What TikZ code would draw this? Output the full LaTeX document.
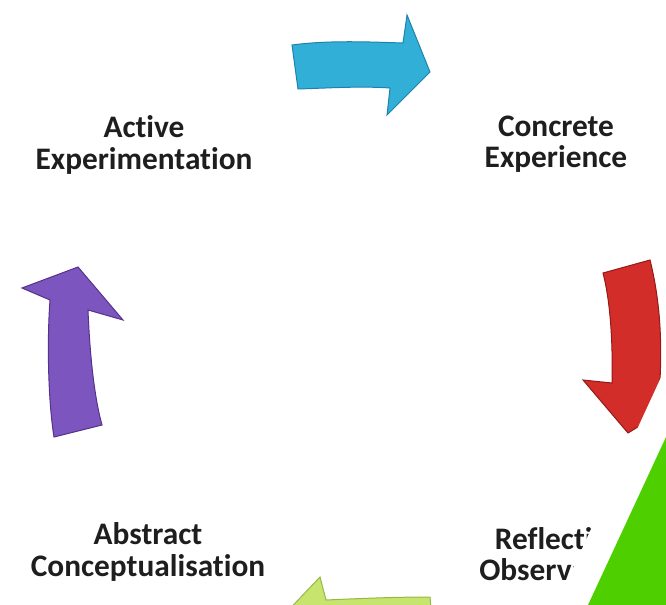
\documentclass[tikz,border=0pt]{standalone}
\usepackage{fontspec}
\setmainfont{Carlito}[Ligatures=NoCommon]
\usepackage{tikz}

\begin{document}
\begin{tikzpicture}[x=0.75pt,y=0.75pt,yscale=-1,xscale=1,
  stage/.style={font=\fontsize{23.5}{23.5}\selectfont\bfseries, align=center, inner sep=0.75pt, text={rgb,255:red,30;green,30;blue,30}}]

\clip (0,0) rectangle (666,605);

% arrows
\draw [draw={rgb, 255:red, 30; green, 130; blue, 175 }, fill={rgb, 255:red, 50; green, 175; blue, 215 }, line width=0.75]  (292,45) .. controls (330,40) and (370,42) .. (403,43) -- (407,15) -- (430,72) -- (387,115) -- (390,88) .. controls (360,86) and (330,88) .. (298,89) -- cycle ;
\draw [draw={rgb, 255:red, 150; green, 25; blue, 25 }, fill={rgb, 255:red, 210; green, 45; blue, 40 }, line width=0.75]  (603,273) -- (650,260) .. controls (660,300) and (662,340) .. (660,380) -- (690,395) -- (628,433) -- (583,380) -- (612,383) .. controls (613,340) and (610,300) .. (603,273) -- cycle ;
\draw [draw={rgb, 255:red, 85; green, 50; blue, 140 }, fill={rgb, 255:red, 125; green, 85; blue, 190 }, line width=0.75]  (78,267) -- (123,320) -- (88,310) .. controls (90,360) and (95,400) .. (102,425) -- (54,437) .. controls (48,400) and (47,340) .. (50,300) -- (22,288) -- cycle ;
\draw [draw={rgb, 255:red, 150; green, 185; blue, 70 }, fill={rgb, 255:red, 198; green, 228; blue, 110 }, line width=0.75]  (320,577) -- (326,600) .. controls (370,598) and (400,597) .. (430,597) -- (434,640) -- (260,640) -- cycle ;

% labels
\node [stage] (active) at (144,145) {Active\\Experimentation};
\node [stage] (concrete) at (556,144) {Concrete\\Experience};
\node [stage] (abstract) at (148,552) {Abstract\\Conceptualisation};
\node [stage, anchor=west] (reflective) at (478,554) {Reflective\\Observation};

% overlay band
\fill [white] (669,366) -- (663,373) -- (556,605) -- (670,605) -- cycle ;
\fill [fill={rgb, 255:red, 78; green, 208; blue, 0 }] (666,437) -- (588,605) -- (666,605) -- cycle ;

\end{tikzpicture}
\end{document}
